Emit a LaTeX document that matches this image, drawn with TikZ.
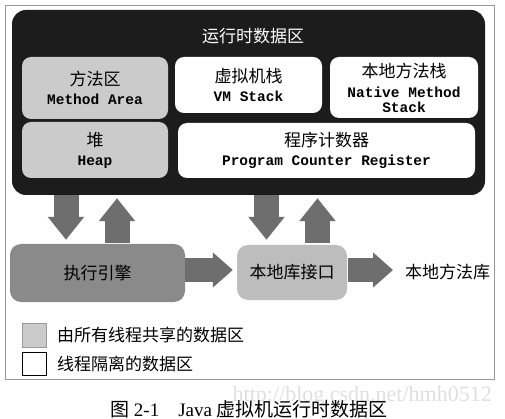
\documentclass[tikz,border=0pt]{standalone}
\usepackage{fontspec}
\setmainfont{Liberation Serif}
\newfontfamily\cjk{Noto Sans CJK SC}
\newfontfamily\monof{Liberation Mono}
\usepackage{tikz}
\usetikzlibrary{arrows.meta,calc}

\definecolor{areablack}{HTML}{1C1C1C}
\definecolor{sharedgray}{HTML}{CBCBCB}
\definecolor{enginegray}{HTML}{8A8A8A}
\definecolor{nativegray}{HTML}{BDBDBD}
\definecolor{arrowgray}{HTML}{6E6E6E}
\definecolor{framegray}{HTML}{9A9A9A}

\newcommand{\zh}{\cjk\fontsize{17}{20}\selectfont}
\newcommand{\en}{\monof\bfseries\fontsize{14.5}{20}\selectfont}

\begin{document}
\begin{tikzpicture}[x=1pt, y=-1pt,
  area/.style={rounded corners=9pt, inner sep=0pt, align=center,
    font=\fontsize{17}{20}\selectfont},
  shared/.style={area, fill=sharedgray},
  own/.style={area, fill=white},
  blockarrow/.style={draw=arrowgray, line width=25pt,
    -{Triangle[width=35pt,length=23pt]}},
  flatarrow/.style={draw=arrowgray, line width=24pt,
    -{Triangle[width=34pt,length=20pt]}}]
\useasboundingbox (0,0) rectangle (505,419);
\fill[white] (0,0) rectangle (505,419);

\draw[framegray] (5,5) rectangle (494,379);

% runtime data area
\node[fill=areablack, rounded corners=14pt, minimum width=473pt,
  minimum height=185pt] (rt) at (248.5,102.5) {};
\node[text=white, font=\zh] (title) at (253,36) {运行时数据区};

\node[shared, minimum width=146pt, minimum height=62pt] (method) at (95,88)
  {{\zh 方法区}\\[-1pt]{\en Method Area}};
\node[own, minimum width=147pt, minimum height=56pt] (vm) at (248.5,85)
  {{\zh 虚拟机栈}\\[-1pt]{\en VM Stack}};
\node[own, minimum width=148pt, minimum height=61pt] (native) at (404,87.5)
  {{\zh 本地方法栈}\\{\en Native Method}\\[-5pt]{\en Stack}};
\node[shared, minimum width=146pt, minimum height=56pt] (heap) at (95,150)
  {{\zh 堆}\\[-1pt]{\en Heap}};
\node[own, minimum width=297pt, minimum height=55pt] (pc) at (326.5,150.5)
  {{\zh 程序计数器}\\[-1pt]{\en Program Counter Register}};

% engine and native interface
\node[area, fill=enginegray, rounded corners=11pt, minimum width=175pt,
  minimum height=58pt, font=\zh] (exec) at (97.5,273) {执行引擎};
\node[area, fill=nativegray, rounded corners=11pt, minimum width=110pt,
  minimum height=55pt, font=\zh] (ni) at (292,272.5) {本地库接口};
\node[font=\zh, anchor=west, inner sep=0pt] (lib) at (405,272) {本地方法库};

\draw[blockarrow] ($(rt.south -| exec.north)+(-31.5pt,0)$) -- ($(exec.north)+(-31.5pt,4pt)$);
\draw[blockarrow] ($(exec.north)+(19.5pt,1pt)$) -- ($(rt.south -| exec.north)+(19.5pt,-3pt)$);
\draw[blockarrow] ($(rt.south -| ni.north)+(-25.5pt,0)$) -- ($(ni.north)+(-25.5pt,5pt)$);
\draw[blockarrow] ($(ni.north)+(25.5pt,2pt)$) -- ($(rt.south -| ni.north)+(25.5pt,-3pt)$);

\draw[flatarrow] ($(exec.east)+(0,3pt)$) -- ($(ni.west)+(-4pt,2.5pt)$);
\draw[flatarrow] ($(ni.east)+(1pt,2.5pt)$) -- ($(lib.west)+(-12pt,2pt)$);

% legend
\node[draw=framegray, fill=sharedgray, minimum width=24pt, minimum height=24pt,
  inner sep=0pt] (keyshared) at (34,335) {};
\node[font=\zh, anchor=west, inner sep=0pt] (txtshared) at (57,335) {由所有线程共享的数据区};
\node[draw=black, fill=white, minimum width=24pt, minimum height=23pt,
  inner sep=0pt] (keyown) at (34,363.5) {};
\node[font=\zh, anchor=west, inner sep=0pt] (txtown) at (57,364) {线程隔离的数据区};

% caption
\node[text=black!12, font=\fontsize{22}{24}\selectfont, anchor=east,
  inner sep=0pt] (url) at (492,396) {http://blog.csdn.net/hmh0512};
\node[font=\fontsize{19}{20}\selectfont, anchor=west, inner sep=0pt] (caption)
  at (110,409) {{\cjk 图} 2-1\quad Java {\cjk 虚拟机运行时数据区}};
\end{tikzpicture}
\end{document}
